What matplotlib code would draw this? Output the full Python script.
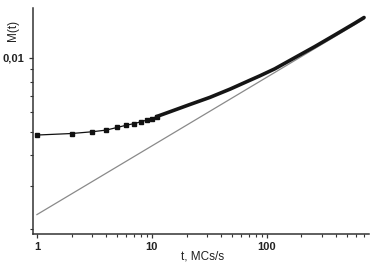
import matplotlib
matplotlib.use("Agg")
import matplotlib.pyplot as plt
from matplotlib.ticker import FixedLocator, FuncFormatter, NullFormatter, LogLocator

# M(t) measured: first points with visible markers, then the dense part
t_marked = [1, 2, 3, 4, 5, 6, 7, 8, 9, 10, 11]
m_marked = [0.00484, 0.00491, 0.00499, 0.00507, 0.00520, 0.00531,
            0.00539, 0.00548, 0.00557, 0.00565, 0.00576]

t_dense = [11, 14, 21, 32, 48, 71, 87, 117, 175, 261, 389, 580, 700]
m_dense = [0.00576, 0.00600, 0.00643, 0.00690, 0.00746, 0.00810, 0.00845,
           0.00902, 0.01002, 0.01112, 0.01240, 0.01385, 0.01462]

# power-law guide line
t_fit = [1, 700]
m_fit = [0.00229, 0.0144]

plt.rcParams['font.family'] = ['Liberation Sans', 'DejaVu Sans']
txt = '#222222'

fig = plt.figure(figsize=(3.74, 2.64), dpi=100)
ax = fig.add_axes([0.088, 0.114, 0.899, 0.856])

ax.plot(t_fit, m_fit, color='#8a8a8a', lw=0.9, zorder=1)
ax.plot(t_marked, m_marked, color='#111111', lw=0.9, marker='s', ms=2.6, zorder=2)
ax.plot(t_dense, m_dense, color='#151515', lw=2.6, solid_capstyle='round',
        solid_joinstyle='round', zorder=2)

ax.set_xscale('log')
ax.set_yscale('log')
ax.set_xlim(0.923, 775)
ax.set_ylim(0.00191, 0.016)

ax.xaxis.set_major_locator(FixedLocator([1, 10, 100]))
ax.xaxis.set_major_formatter(FuncFormatter(lambda v, p: '%g' % v))
ax.xaxis.set_minor_locator(LogLocator(base=10, subs=range(2, 10)))
ax.xaxis.set_minor_formatter(NullFormatter())

ax.yaxis.set_major_locator(FixedLocator([0.01]))
ax.yaxis.set_major_formatter(FuncFormatter(lambda v, p: '0,01'))
ax.yaxis.set_minor_locator(LogLocator(base=10, subs=range(2, 10)))
ax.yaxis.set_minor_formatter(NullFormatter())

for s in ['top', 'right']:
    ax.spines[s].set_visible(False)
for s in ['left', 'bottom']:
    ax.spines[s].set_linewidth(1.1)
    ax.spines[s].set_color('#333333')

ax.tick_params(which='major', direction='out', length=3, width=0.9, color='#333333',
               labelsize=8, labelcolor=txt, pad=3)
ax.tick_params(which='minor', direction='out', length=2, width=0.8, color='#333333')
for lab in ax.get_xticklabels() + ax.get_yticklabels():
    lab.set_fontweight('bold')

ax.set_xlabel('t, MCs/s', fontsize=8.5, color=txt)
ax.xaxis.set_label_coords(0.506, -0.075)
ax.set_ylabel('M(t)', fontsize=8.5, color=txt)
ax.yaxis.set_label_coords(-0.04, 0.90)

fig.savefig('out.png', dpi=100)
